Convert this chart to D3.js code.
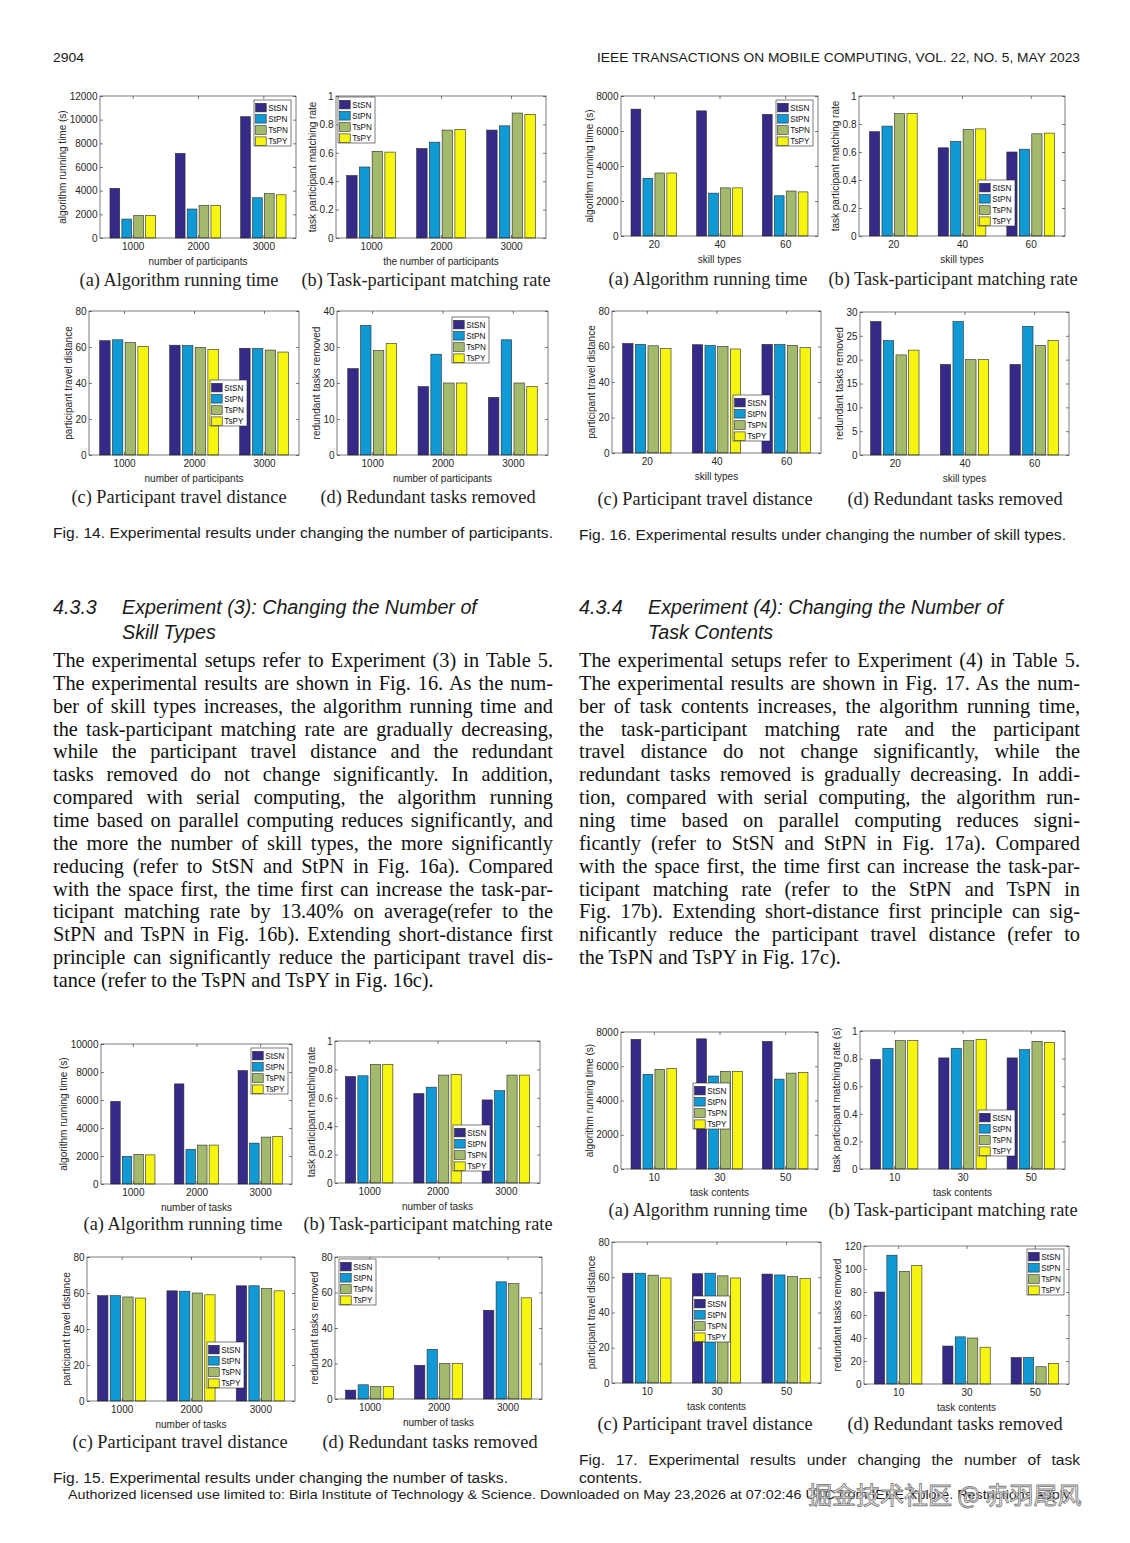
<!DOCTYPE html>
<html>
<head>
<meta charset="utf-8">
<script src="https://cdn.jsdelivr.net/npm/d3@7"></script>
<style>
  html, body { margin: 0; padding: 0; background: #fff; }
  svg { display: block; }
</style>
</head>
<body>
<svg id="page" width="1130" height="1543"></svg>
<script>
// ---------------- DATA ----------------
const seriesNames = ["StSN", "StPN", "TsPN", "TsPY"];
const seriesColors = ["#352a87", "#0f9ad6", "#a3ba6c", "#f5f510"];

const catsParticipants = ["1000", "2000", "3000"];
const catsSkills = ["20", "40", "60"];
const catsTasks = ["1000", "2000", "3000"];
const catsContents = ["10", "30", "50"];

const ticksTime12k = [0, 2000, 4000, 6000, 8000, 10000, 12000];
const ticksTime10k = [0, 2000, 4000, 6000, 8000, 10000];
const ticksTime8k = [0, 2000, 4000, 6000, 8000];
const ticksRate = [0, 0.2, 0.4, 0.6, 0.8, 1];
const ticksDist = [0, 20, 40, 60, 80];
const ticksRed40 = [0, 10, 20, 30, 40];
const ticksRed30 = [0, 5, 10, 15, 20, 25, 30];
const ticksRed80 = [0, 20, 40, 60, 80];
const ticksRed120 = [0, 20, 40, 60, 80, 100, 120];

// Fig. 14 (rows: StSN, StPN, TsPN, TsPY)
const fig14a = [[4200, 7150, 10250], [1600, 2450, 3400], [1900, 2750, 3750], [1900, 2750, 3650]];
const fig14b = [[0.44, 0.63, 0.76], [0.50, 0.675, 0.79], [0.61, 0.76, 0.88], [0.605, 0.765, 0.87]];
const fig14c = [[63.5, 61.0, 59.3], [64.0, 60.8, 59.2], [62.5, 59.8, 58.3], [60.3, 58.6, 57.2]];
const fig14d = [[24, 19, 16], [36, 28, 32], [29, 20, 20], [31, 20, 19]];
// Fig. 16
const fig16a = [[7250, 7150, 6950], [3300, 2450, 2300], [3600, 2750, 2570], [3600, 2750, 2520]];
const fig16b = [[0.745, 0.63, 0.60], [0.785, 0.675, 0.62], [0.875, 0.76, 0.73], [0.875, 0.765, 0.735]];
const fig16c = [[61.7, 61.0, 61.2], [61.2, 60.6, 61.1], [60.4, 60.0, 60.6], [58.9, 58.6, 59.4]];
const fig16d = [[28, 19, 19], [24, 28, 27], [21, 20, 23], [22, 20, 24]];
// Fig. 15
const fig15a = [[5900, 7150, 8100], [1980, 2480, 2920], [2120, 2780, 3350], [2080, 2780, 3400]];
const fig15b = [[0.75, 0.63, 0.585], [0.755, 0.675, 0.65], [0.835, 0.76, 0.76], [0.835, 0.765, 0.76]];
const fig15c = [[58.5, 61.2, 64.0], [58.5, 61.0, 64.0], [57.8, 60.0, 62.5], [57.2, 59.0, 61.2]];
const fig15d = [[5, 19, 50], [8, 28, 66], [7, 20, 65], [7, 20, 57]];
// Fig. 17
const fig17a = [[7570, 7600, 7450], [5530, 5430, 5250], [5820, 5700, 5600], [5870, 5700, 5640]];
const fig17b = [[0.795, 0.805, 0.805], [0.875, 0.875, 0.865], [0.93, 0.93, 0.925], [0.93, 0.94, 0.918]];
const fig17c = [[62.3, 62.0, 61.8], [62.3, 62.3, 61.3], [61.2, 60.8, 60.4], [59.6, 59.6, 59.2]];
const fig17d = [[80, 33, 23], [112, 41, 23], [98, 40, 15], [103, 32, 18]];

const yLabTime = "algorithm running time (s)";
const yLabRate = "task participant matching rate";
const yLabRateS = "task participant matching rate (s)";
const yLabDist = "participant travel distance";
const yLabRed = "redundant tasks removed";

const subCaptions = ["(a) Algorithm running time", "(b) Task-participant matching rate",
                     "(c) Participant travel distance", "(d) Redundant tasks removed"];

const headerLeft = "2904";
const headerRight = "IEEE TRANSACTIONS ON MOBILE COMPUTING, VOL. 22, NO. 5, MAY 2023";
const fig14Caption = "Fig. 14. Experimental results under changing the number of participants.";
const fig16Caption = "Fig. 16. Experimental results under changing the number of skill types.";
const fig15Caption = "Fig. 15. Experimental results under changing the number of tasks.";
const fig17CaptionLines = ["Fig. 17. Experimental results under changing the number of task", "contents."];
const footerText = "Authorized licensed use limited to: Birla Institute of Technology & Science. Downloaded on May 23,2026 at 07:02:46 UTC from IEEE Xplore.  Restrictions apply.";
const watermark = "掘金技术社区 @ 赤羽尾风";

const headLeft = ["4.3.3", "Experiment (3): Changing the Number of", "Skill Types"];
const headRight = ["4.3.4", "Experiment (4): Changing the Number of", "Task Contents"];

const bodyLeft = [
  "The experimental setups refer to Experiment (3) in Table 5.",
  "The experimental results are shown in Fig. 16. As the num-",
  "ber of skill types increases, the algorithm running time and",
  "the task-participant matching rate are gradually decreasing,",
  "while the participant travel distance and the redundant",
  "tasks removed do not change significantly. In addition,",
  "compared with serial computing, the algorithm running",
  "time based on parallel computing reduces significantly, and",
  "the more the number of skill types, the more significantly",
  "reducing (refer to StSN and StPN in Fig. 16a). Compared",
  "with the space first, the time first can increase the task-par-",
  "ticipant matching rate by 13.40% on average(refer to the",
  "StPN and TsPN in Fig. 16b). Extending short-distance first",
  "principle can significantly reduce the participant travel dis-",
  "tance (refer to the TsPN and TsPY in Fig. 16c)."
];
const bodyRight = [
  "The experimental setups refer to Experiment (4) in Table 5.",
  "The experimental results are shown in Fig. 17. As the num-",
  "ber of task contents increases, the algorithm running time,",
  "the task-participant matching rate and the participant",
  "travel distance do not change significantly, while the",
  "redundant tasks removed is gradually decreasing. In addi-",
  "tion, compared with serial computing, the algorithm run-",
  "ning time based on parallel computing reduces signi-",
  "ficantly (refer to StSN and StPN in Fig. 17a). Compared",
  "with the space first, the time first can increase the task-par-",
  "ticipant matching rate (refer to the StPN and TsPN in",
  "Fig. 17b). Extending short-distance first principle can sig-",
  "nificantly reduce the participant travel distance (refer to",
  "the TsPN and TsPY in Fig. 17c)."
];

// ---------------- LAYOUT ----------------
const charts = [
  // Fig 14
  {v: fig14a, cats: catsParticipants, ticks: ticksTime12k, yl: yLabTime, xl: "number of participants", box: [100, 296, 96, 238], leg: [254, 100], cap: 0, capPos: [179, 286]},
  {v: fig14b, cats: catsParticipants, ticks: ticksRate, yl: yLabRate, xl: "the number of participants", box: [336, 546, 96, 238], leg: [338, 97], cap: 1, capPos: [426, 286]},
  {v: fig14c, cats: catsParticipants, ticks: ticksDist, yl: yLabDist, xl: "number of participants", box: [89, 299, 311, 455], leg: [210, 380], cap: 2, capPos: [179, 503]},
  {v: fig14d, cats: catsParticipants, ticks: ticksRed40, yl: yLabRed, xl: "number of participants", box: [337, 548, 311, 455], leg: [452, 317], cap: 3, capPos: [428, 503]},
  // Fig 16
  {v: fig16a, cats: catsSkills, ticks: ticksTime8k, yl: yLabTime, xl: "skill types", box: [621, 818, 96, 236], leg: [776, 100], cap: 0, capPos: [708, 285]},
  {v: fig16b, cats: catsSkills, ticks: ticksRate, yl: yLabRate, xl: "skill types", box: [859, 1065, 96, 236], leg: [978, 180], cap: 1, capPos: [953, 285]},
  {v: fig16c, cats: catsSkills, ticks: ticksDist, yl: yLabDist, xl: "skill types", box: [612, 821, 311, 453], leg: [733, 395], cap: 2, capPos: [705, 505]},
  {v: fig16d, cats: catsSkills, ticks: ticksRed30, yl: yLabRed, xl: "skill types", box: [860, 1069, 312, 455], leg: null, cap: 3, capPos: [955, 505]},
  // Fig 15
  {v: fig15a, cats: catsTasks, ticks: ticksTime10k, yl: yLabTime, xl: "number of tasks", box: [101, 292, 1044, 1184], leg: [251, 1048], cap: 0, capPos: [183, 1230]},
  {v: fig15b, cats: catsTasks, ticks: ticksRate, yl: yLabRate, xl: "number of tasks", box: [335, 540, 1041, 1183], leg: [453, 1125], cap: 1, capPos: [428, 1230]},
  {v: fig15c, cats: catsTasks, ticks: ticksDist, yl: yLabDist, xl: "number of tasks", box: [87, 295, 1257, 1401], leg: [207, 1342], cap: 2, capPos: [180, 1448]},
  {v: fig15d, cats: catsTasks, ticks: ticksRed80, yl: yLabRed, xl: "number of tasks", box: [335, 542, 1257, 1399], leg: [339, 1259], cap: 3, capPos: [430, 1448]},
  // Fig 17
  {v: fig17a, cats: catsContents, ticks: ticksTime8k, yl: yLabTime, xl: "task contents", box: [621, 818, 1032, 1169], leg: [693, 1083], cap: 0, capPos: [708, 1216]},
  {v: fig17b, cats: catsContents, ticks: ticksRate, yl: yLabRateS, xl: "task contents", box: [860, 1065, 1031, 1169], leg: [978, 1110], cap: 1, capPos: [953, 1216]},
  {v: fig17c, cats: catsContents, ticks: ticksDist, yl: yLabDist, xl: "task contents", box: [612, 821, 1242, 1383], leg: [693, 1296], cap: 2, capPos: [705, 1430]},
  {v: fig17d, cats: catsContents, ticks: ticksRed120, yl: yLabRed, xl: "task contents", box: [864, 1069, 1246, 1384], leg: [1027, 1249], cap: 3, capPos: [955, 1430]}
];

const svg = d3.select("#page");
svg.append("rect").attr("width", 1130).attr("height", 1543).attr("fill", "#fff");

const SANS = "'Liberation Sans', Arial, Helvetica, sans-serif";
const SERIF = "'Liberation Serif', 'Times New Roman', serif";
const AX = "#262626";

function measure(txt, family, size, style) {
  const t = svg.append("text").attr("font-family", family).attr("font-size", size)
    .attr("font-style", style || "normal").text(txt);
  const w = t.node().getComputedTextLength();
  t.remove();
  return w;
}

// ---------------- CHARTS ----------------
const TICKPAD = 2.5;
function drawChart(cfg) {
  const [L, R, T, B] = cfg.box;
  const g = svg.append("g");
  const ymax = cfg.ticks[cfg.ticks.length - 1];
  const x = d3.scaleLinear().domain([0.5, cfg.cats.length + 0.5]).range([L, R]);
  const y = d3.scaleLinear().domain([0, ymax]).range([B, T]);
  const ns = cfg.v.length;
  const gw = Math.min(0.8, ns / (ns + 1.5));
  const slot = gw / ns;
  const bw = slot * 0.82;

  // bars
  cfg.v.forEach((arr, si) => {
    g.append("g").selectAll("rect").data(arr).join("rect")
      .attr("x", (d, ci) => x(ci + 1 - gw / 2 + slot * (si + 0.5) - bw / 2))
      .attr("width", x(bw) - x(0))
      .attr("y", d => y(d))
      .attr("height", d => y(0) - y(d))
      .attr("fill", seriesColors[si])
      .attr("stroke", "#2a2a2a")
      .attr("stroke-width", 0.6);
  });

  const fmt = d => String(d);
  const tickSel = (ax) => {
    ax.select(".domain").remove();
    ax.selectAll("line").attr("stroke", AX).attr("stroke-width", 0.6);
    ax.selectAll("text").attr("fill", AX).attr("font-family", SANS).attr("font-size", 10);
  };
  // left axis
  g.append("g").attr("transform", `translate(${L},0)`)
    .call(d3.axisLeft(y).tickValues(cfg.ticks).tickFormat(fmt).tickSizeInner(-3).tickSizeOuter(0).tickPadding(TICKPAD))
    .call(tickSel);
  // right axis (ticks only)
  g.append("g").attr("transform", `translate(${R},0)`)
    .call(d3.axisRight(y).tickValues(cfg.ticks).tickFormat("").tickSizeInner(-3).tickSizeOuter(0))
    .call(tickSel);
  // bottom axis
  const catIdx = cfg.cats.map((c, i) => i + 1);
  g.append("g").attr("transform", `translate(0,${B})`)
    .call(d3.axisBottom(x).tickValues(catIdx).tickFormat((d, i) => cfg.cats[i]).tickSizeInner(-3).tickSizeOuter(0).tickPadding(5))
    .call(tickSel);
  // top axis (ticks only)
  g.append("g").attr("transform", `translate(0,${T})`)
    .call(d3.axisTop(x).tickValues(catIdx).tickFormat("").tickSizeInner(-3).tickSizeOuter(0))
    .call(tickSel);
  // box
  g.append("rect").attr("x", L).attr("y", T).attr("width", R - L).attr("height", B - T)
    .attr("fill", "none").attr("stroke", AX).attr("stroke-width", 0.6);

  // x label
  g.append("text").attr("x", (L + R) / 2).attr("y", B + 26.5).attr("text-anchor", "middle")
    .attr("font-family", SANS).attr("font-size", 10).attr("fill", AX).text(cfg.xl);
  // y label
  const maxW = d3.max(cfg.ticks, t => measure(fmt(t), SANS, 10));
  const yx = L - TICKPAD - maxW - 3.5;
  g.append("text").attr("transform", `translate(${yx},${(T + B) / 2}) rotate(-90)`)
    .attr("text-anchor", "middle").attr("font-family", SANS).attr("font-size", 10)
    .attr("fill", AX).text(cfg.yl);

  // legend
  if (cfg.leg) {
    const [lx, ly] = cfg.leg;
    const lg = g.append("g").attr("transform", `translate(${lx},${ly})`);
    lg.append("rect").attr("width", 37).attr("height", 46).attr("fill", "#fff")
      .attr("stroke", AX).attr("stroke-width", 0.6);
    const rows = lg.selectAll("g.row").data(seriesNames).join("g").attr("class", "row")
      .attr("transform", (d, i) => `translate(0,${7.6 + i * 11.2})`);
    rows.append("rect").attr("x", 1.6).attr("y", -4.3).attr("width", 10.6).attr("height", 8.6)
      .attr("fill", (d, i) => seriesColors[i]).attr("stroke", "#2a2a2a").attr("stroke-width", 0.6);
    rows.append("text").attr("x", 14.3).attr("y", 3).attr("font-family", SANS)
      .attr("font-size", 8.2).attr("fill", "#111").text(d => d);
  }
}
charts.forEach(drawChart);

// sub captions
const capFs = 17 * 199 / measure(subCaptions[0], SERIF, 17);
charts.forEach(cfg => {
  svg.append("text").attr("x", cfg.capPos[0]).attr("y", cfg.capPos[1]).attr("text-anchor", "middle")
    .attr("font-family", SERIF).attr("font-size", capFs).attr("fill", "#222")
    .text(subCaptions[cfg.cap]);
});

// ---------------- TEXT ----------------
function condensed(txt, x, y, size, width) {
  const g = svg.append("g").attr("transform", `translate(${x},${y})`);
  const t = g.append("text").attr("font-family", SANS).attr("font-size", size).attr("fill", "#1a1a1a").text(txt);
  t.attr("textLength", width).attr("lengthAdjust", "spacingAndGlyphs");
  return t;
}
condensed(headerLeft, 53, 62, 13, 31);
condensed(headerRight, 597, 62, 13, 483);
condensed(fig14Caption, 53, 538, 15.5, 500);
condensed(fig16Caption, 579, 540, 15.5, 487);
condensed(fig15Caption, 53, 1483, 15.5, 455);

// Fig 17 caption: condensed + justified first line
{
  const sx = 455 / measure(fig15Caption, SANS, 15.5);
  const g = svg.append("g").attr("transform", `translate(579,1465) scale(${sx},1)`);
  const t = g.append("text").attr("font-family", SANS).attr("font-size", 15.5).attr("fill", "#1a1a1a").text(fig17CaptionLines[0]);
  const w = t.node().getComputedTextLength();
  const n = (fig17CaptionLines[0].match(/ /g) || []).length;
  t.style("word-spacing", ((501 / sx - w) / n) + "px");
  svg.append("g").attr("transform", `translate(579,1483) scale(${sx},1)`)
    .append("text").attr("font-family", SANS).attr("font-size", 15.5).attr("fill", "#1a1a1a").text(fig17CaptionLines[1]);
}
condensed(footerText, 68, 1499, 13.5, 1005);

// headings
const headFs = 19 * 355 / measure(headLeft[1], SANS, 19, "italic");
[[headLeft, 53, 122], [headRight, 579, 648]].forEach(([h, x0, x1]) => {
  const a = {"font-family": SANS, "font-size": headFs, "font-style": "italic", "fill": "#1a1a1a"};
  const t0 = svg.append("text").attr("x", x0).attr("y", 614).text(h[0]);
  const t1 = svg.append("text").attr("x", x1).attr("y", 614).text(h[1]);
  const t2 = svg.append("text").attr("x", x1).attr("y", 639).text(h[2]);
  [t0, t1, t2].forEach(t => Object.entries(a).forEach(([k, v]) => t.attr(k, v)));
});

// body text, justified
const bodyFs = 20 * 381 / measure(bodyLeft[bodyLeft.length - 1], SERIF, 20);
function body(lines, x0, width) {
  lines.forEach((ln, i) => {
    const t = svg.append("text").attr("x", x0).attr("y", 667 + i * 22.857)
      .attr("font-family", SERIF).attr("font-size", bodyFs).attr("fill", "#111").text(ln);
    if (i < lines.length - 1) {
      const w = t.node().getComputedTextLength();
      const n = (ln.match(/ /g) || []).length;
      if (n > 0) t.style("word-spacing", ((width - w) / n) + "px");
    }
  });
}
body(bodyLeft, 53, 500);
body(bodyRight, 579, 501);

// watermark (overlays the footer as in the source)
svg.append("text").attr("x", 808).attr("y", 1504)
  .attr("font-family", "'Noto Sans CJK SC', sans-serif").attr("font-size", 24)
  .attr("fill", "#ffffff").attr("fill-opacity", 0.85).attr("stroke", "#808080").attr("stroke-width", 0.9)
  .text(watermark);
</script>
</body>
</html>
